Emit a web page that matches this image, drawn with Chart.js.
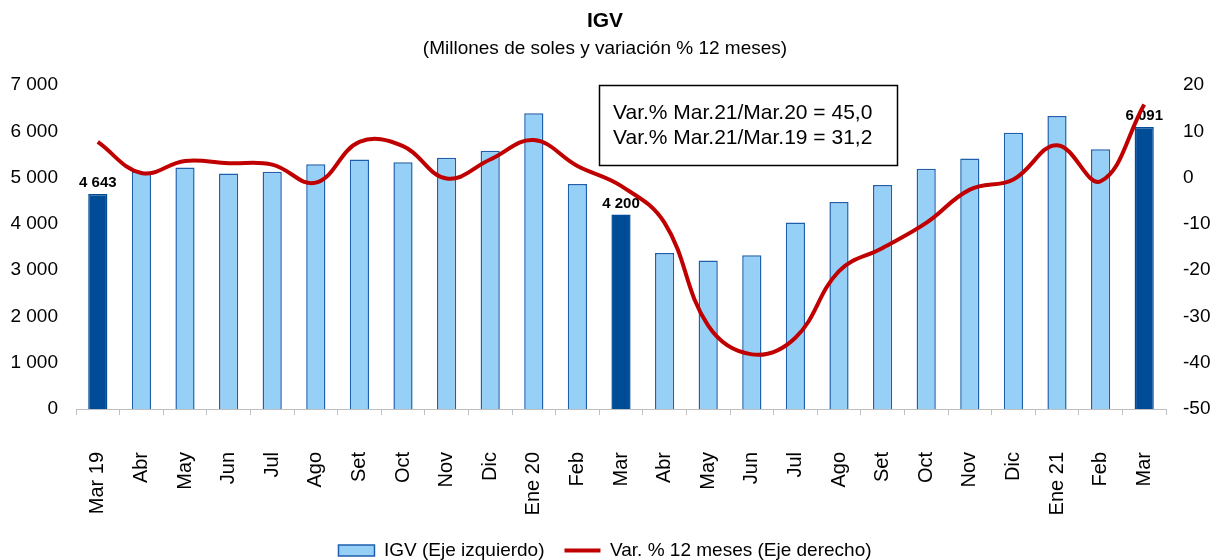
<!DOCTYPE html>
<html>
<head>
<meta charset="utf-8">
<script src="https://cdn.jsdelivr.net/npm/chart.js@4.4.1/dist/chart.umd.min.js"></script>
<style>
  html, body { margin: 0; padding: 0; background: #fff; }
  #wrap { width: 1210px; height: 560px; }
</style>
</head>
<body>
<div id="wrap"><canvas id="igvChart" width="1210" height="560"></canvas></div>
<script>
// categories (monthly, Mar 2019 - Mar 2021)
const months = ['Mar 19', 'Abr', 'May', 'Jun', 'Jul', 'Ago', 'Set', 'Oct', 'Nov', 'Dic', 'Ene 20', 'Feb',
  'Mar', 'Abr', 'May', 'Jun', 'Jul', 'Ago', 'Set', 'Oct', 'Nov', 'Dic', 'Ene 21', 'Feb', 'Mar'];

// IGV, millones de soles (left axis)
const igv = [4643, 5125, 5220, 5090, 5125, 5290, 5390, 5330, 5430, 5580, 6390, 4860,
  4200, 3370, 3210, 3320, 4030, 4470, 4840, 5190, 5410, 5970, 6330, 5610, 6091];

// Var. % 12 meses (right axis)
const varPct = [7.7, 1.0, 3.6, 3.1, 2.8, -1.1, 7.7, 6.8, -0.2, 3.9, 8.1, 2.5,
  -1.8, -9.8, -32.0, -38.2, -34.6, -20.2, -15.2, -9.8, -2.6, -0.4, 7.0, -0.8, 15.8];

// months highlighted and labelled
const marchIdx = [0, 12, 24];

const boxLines = ['Var.% Mar.21/Mar.20 = 45,0', 'Var.% Mar.21/Mar.19 = 31,2'];

const FONT = "'Liberation Sans', Arial, sans-serif";
const lightBlue = '#97D0F7';
const edgeBlue = '#1F5FAD';
const darkBlue = '#004C97';
const red = '#C00000';

function fmt(v) {
  return String(v).replace(/\B(?=(\d{3})+(?!\d))/g, ' ');
}

const extras = {
  id: 'extras',
  afterDatasetDraw(chart, args) {
    if (args.index !== 0) return;
    const ctx = chart.ctx;
    const meta = chart.getDatasetMeta(0);
    ctx.save();
    ctx.font = 'bold 15px ' + FONT;
    ctx.fillStyle = '#000';
    ctx.textAlign = 'center';
    ctx.textBaseline = 'middle';
    marchIdx.forEach(i => {
      const bar = meta.data[i];
      ctx.fillText(fmt(igv[i]), bar.x, bar.y - 11);
    });
    ctx.restore();
  },
  afterDraw(chart) {
    const ctx = chart.ctx;
    ctx.save();
    ctx.fillStyle = '#fff';
    ctx.fillRect(599, 85, 298, 80);
    ctx.strokeStyle = '#000';
    ctx.lineWidth = 1.5;
    ctx.strokeRect(599.5, 85.5, 298, 80);
    ctx.font = '21px ' + FONT;
    ctx.fillStyle = '#000';
    ctx.textBaseline = 'middle';
    ctx.fillText(boxLines[0], 613, 113);
    ctx.fillText(boxLines[1], 613, 138);
    ctx.restore();
  }
};

const ctx = document.getElementById('igvChart').getContext('2d');
new Chart(ctx, {
  data: {
    labels: months,
    datasets: [{
      type: 'bar',
      label: 'IGV (Eje izquierdo)',
      data: igv,
      yAxisID: 'y',
      order: 1,
      backgroundColor: c => marchIdx.includes(c.dataIndex) ? darkBlue : lightBlue,
      borderColor: c => marchIdx.includes(c.dataIndex) ? darkBlue : edgeBlue,
      borderWidth: 1.5,
      barPercentage: 0.44,
      categoryPercentage: 1
    }, {
      type: 'line',
      label: 'Var. % 12 meses (Eje derecho)',
      data: varPct,
      yAxisID: 'y2',
      order: 0,
      borderColor: red,
      backgroundColor: red,
      borderWidth: 4,
      pointRadius: 0,
      tension: 0.4
    }]
  },
  options: {
    responsive: false,
    animation: false,
    layout: { padding: { left: 0, right: 0, top: 0, bottom: -10 } },
    plugins: {
      title: {
        display: true,
        text: 'IGV',
        color: '#000',
        font: { family: FONT, size: 21, weight: 'bold' },
        padding: { top: 9, bottom: 1 }
      },
      subtitle: {
        display: true,
        text: '(Millones de soles y variación % 12 meses)',
        color: '#000',
        font: { family: FONT, size: 19 },
        padding: { top: 2, bottom: 25 }
      },
      legend: {
        position: 'bottom',
        labels: {
          color: '#000',
          font: { family: FONT, size: 19 },
          usePointStyle: true,
          pointStyleWidth: 36,
          boxHeight: 11,
          padding: 20,
          generateLabels(chart) {
            const items = Chart.defaults.plugins.legend.labels.generateLabels(chart);
            items.forEach(it => {
              if (it.datasetIndex === 0) {
                it.pointStyle = 'rect';
                it.fillStyle = lightBlue;
                it.strokeStyle = edgeBlue;
                it.lineWidth = 1.5;
              } else {
                it.pointStyle = 'line';
                it.strokeStyle = red;
                it.lineWidth = 4;
              }
            });
            return items.sort((a, b) => a.datasetIndex - b.datasetIndex);
          }
        }
      },
      tooltip: { enabled: false }
    },
    scales: {
      x: {
        offset: true,
        grid: { display: true, drawOnChartArea: false, offset: true, tickLength: 6, color: '#bfbfbf' },
        border: { display: true, color: '#bfbfbf' },
        ticks: {
          color: '#000',
          font: { family: FONT, size: 20 },
          minRotation: 90,
          maxRotation: 90,
          autoSkip: false,
          padding: 37
        },
        afterFit: s => { s.height = 112; }
      },
      y: {
        position: 'left',
        min: 0,
        max: 7000,
        grid: { display: false, drawTicks: false },
        border: { display: false },
        ticks: {
          stepSize: 1000,
          color: '#000',
          padding: 18,
          font: { family: FONT, size: 19 },
          callback: v => fmt(v)
        },
        afterFit: s => { s.width = 76; }
      },
      y2: {
        position: 'right',
        min: -50,
        max: 20,
        grid: { display: false, drawTicks: false },
        border: { display: false },
        ticks: {
          stepSize: 10,
          color: '#000',
          padding: 17,
          font: { family: FONT, size: 19 }
        },
        afterFit: s => { s.width = 44; }
      }
    }
  },
  plugins: [extras]
});
</script>
</body>
</html>
